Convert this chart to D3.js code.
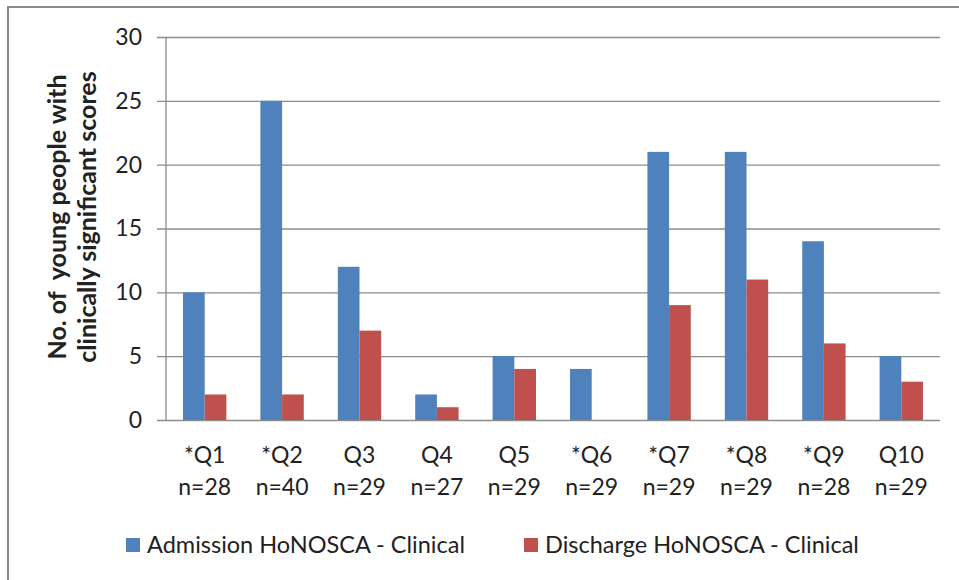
<!DOCTYPE html>
<html>
<head>
<meta charset="utf-8">
<script src="https://cdn.jsdelivr.net/npm/d3@7"></script>
<style>
  body { margin: 0; background: #fff; }
  text { font-family: Lato, "Open Sans", sans-serif; fill: #222; }
</style>
</head>
<body>
<div class="chart"></div>
<script>
//// data

const questions = ['*Q1', '*Q2', 'Q3', 'Q4', 'Q5', '*Q6', '*Q7', '*Q8', '*Q9', 'Q10'];
const sampleSizes = ['n=28', 'n=40', 'n=29', 'n=27', 'n=29', 'n=29', 'n=29', 'n=29', 'n=28', 'n=29'];
const admission = [10, 25, 12, 2, 5, 4, 21, 21, 14, 5];
const discharge = [2, 2, 7, 1, 4, 0, 9, 11, 6, 3];
const seriesNames = ['Admission HoNOSCA - Clinical', 'Discharge HoNOSCA - Clinical'];
const seriesColors = ['#4f81bd', '#c0504d'];
const yTicks = [0, 5, 10, 15, 20, 25, 30];


function drawChart(rootDom){
    const w = 959, h = 580;
    const left = 166, right = 940, top = 37, bottom = 420;

    const svg = d3.select(rootDom)
        .append('svg')
        .attr('width', w)
        .attr('height', h);

    // outer frame (only top and left show in the crop)
    svg.append('rect')
        .attr('x', 8).attr('y', 7)
        .attr('width', 1000).attr('height', 1000)
        .style('fill', 'none')
        .style('stroke', '#8a8a8a')
        .style('stroke-width', 2);

    const x = d3.scaleBand()
        .domain(questions)
        .range([left, right]);
    const inner = d3.scaleBand()
        .domain([0, 1])
        .range([0, x.bandwidth()])
        .paddingOuter(0.785)
        .paddingInner(0);
    const y = d3.scaleLinear()
        .domain([0, 30])
        .range([bottom, top]);

    // gridlines + y axis
    const yAxis = d3.axisLeft(y)
        .tickValues(yTicks)
        .tickSize(-(right - left))
        .tickPadding(24);
    const gy = svg.append('g')
        .attr('transform', `translate(${left},0)`)
        .call(yAxis);
    gy.select('.domain').remove();
    gy.selectAll('.tick line')
        .attr('x1', -9)
        .style('stroke', '#8c8c8c')
        .style('stroke-width', 1.3);
    gy.selectAll('.tick text')
        .style('font-size', '23px')
        .style('font-family', 'Lato, sans-serif')
        .style('fill', '#222');
    svg.append('line')
        .attr('x1', left).attr('x2', left)
        .attr('y1', top).attr('y2', bottom)
        .style('stroke', '#8c8c8c')
        .style('stroke-width', 1.3);

    // bars
    const groups = svg.selectAll('.group')
        .data(questions)
        .enter().append('g')
        .attr('class', 'group')
        .attr('transform', d => `translate(${x(d)},0)`);
    groups.selectAll('rect')
        .data((d, i) => [admission[i], discharge[i]])
        .enter().append('rect')
        .attr('x', (d, j) => inner(j))
        .attr('width', inner.bandwidth())
        .attr('y', d => y(d))
        .attr('height', d => bottom - y(d))
        .style('fill', (d, j) => seriesColors[j]);

    // category labels (two lines)
    groups.append('text')
        .attr('x', x.bandwidth() / 2)
        .attr('y', 463)
        .attr('text-anchor', 'middle')
        .style('font-size', '23px')
        .text(d => d);
    groups.append('text')
        .attr('x', x.bandwidth() / 2)
        .attr('y', 495)
        .attr('text-anchor', 'middle')
        .style('font-size', '23px')
        .text((d, i) => sampleSizes[i]);

    // y axis title
    const title = svg.append('text')
        .attr('transform', 'translate(0,217) rotate(-90)')
        .attr('text-anchor', 'middle')
        .style('font-size', '25px')
        .style('font-weight', 'bold')
        .style('white-space', 'pre');
    title.append('tspan').attr('x', 0).attr('y', 66).text('No. of\u00a0 young people with');
    title.append('tspan').attr('x', 0).attr('y', 96).text('clinically significant scores');

    // legend
    const legendX = [126, 524];
    const legend = svg.selectAll('.legend')
        .data(seriesNames)
        .enter().append('g')
        .attr('class', 'legend')
        .attr('transform', (d, i) => `translate(${legendX[i]},538)`);
    legend.append('rect')
        .attr('width', 14).attr('height', 14)
        .style('fill', (d, i) => seriesColors[i]);
    legend.append('text')
        .attr('x', 21)
        .attr('y', 15)
        .style('font-size', '23.5px')
        .text(d => d);
}

drawChart(d3.select('.chart').node());
</script>
</body>
</html>
